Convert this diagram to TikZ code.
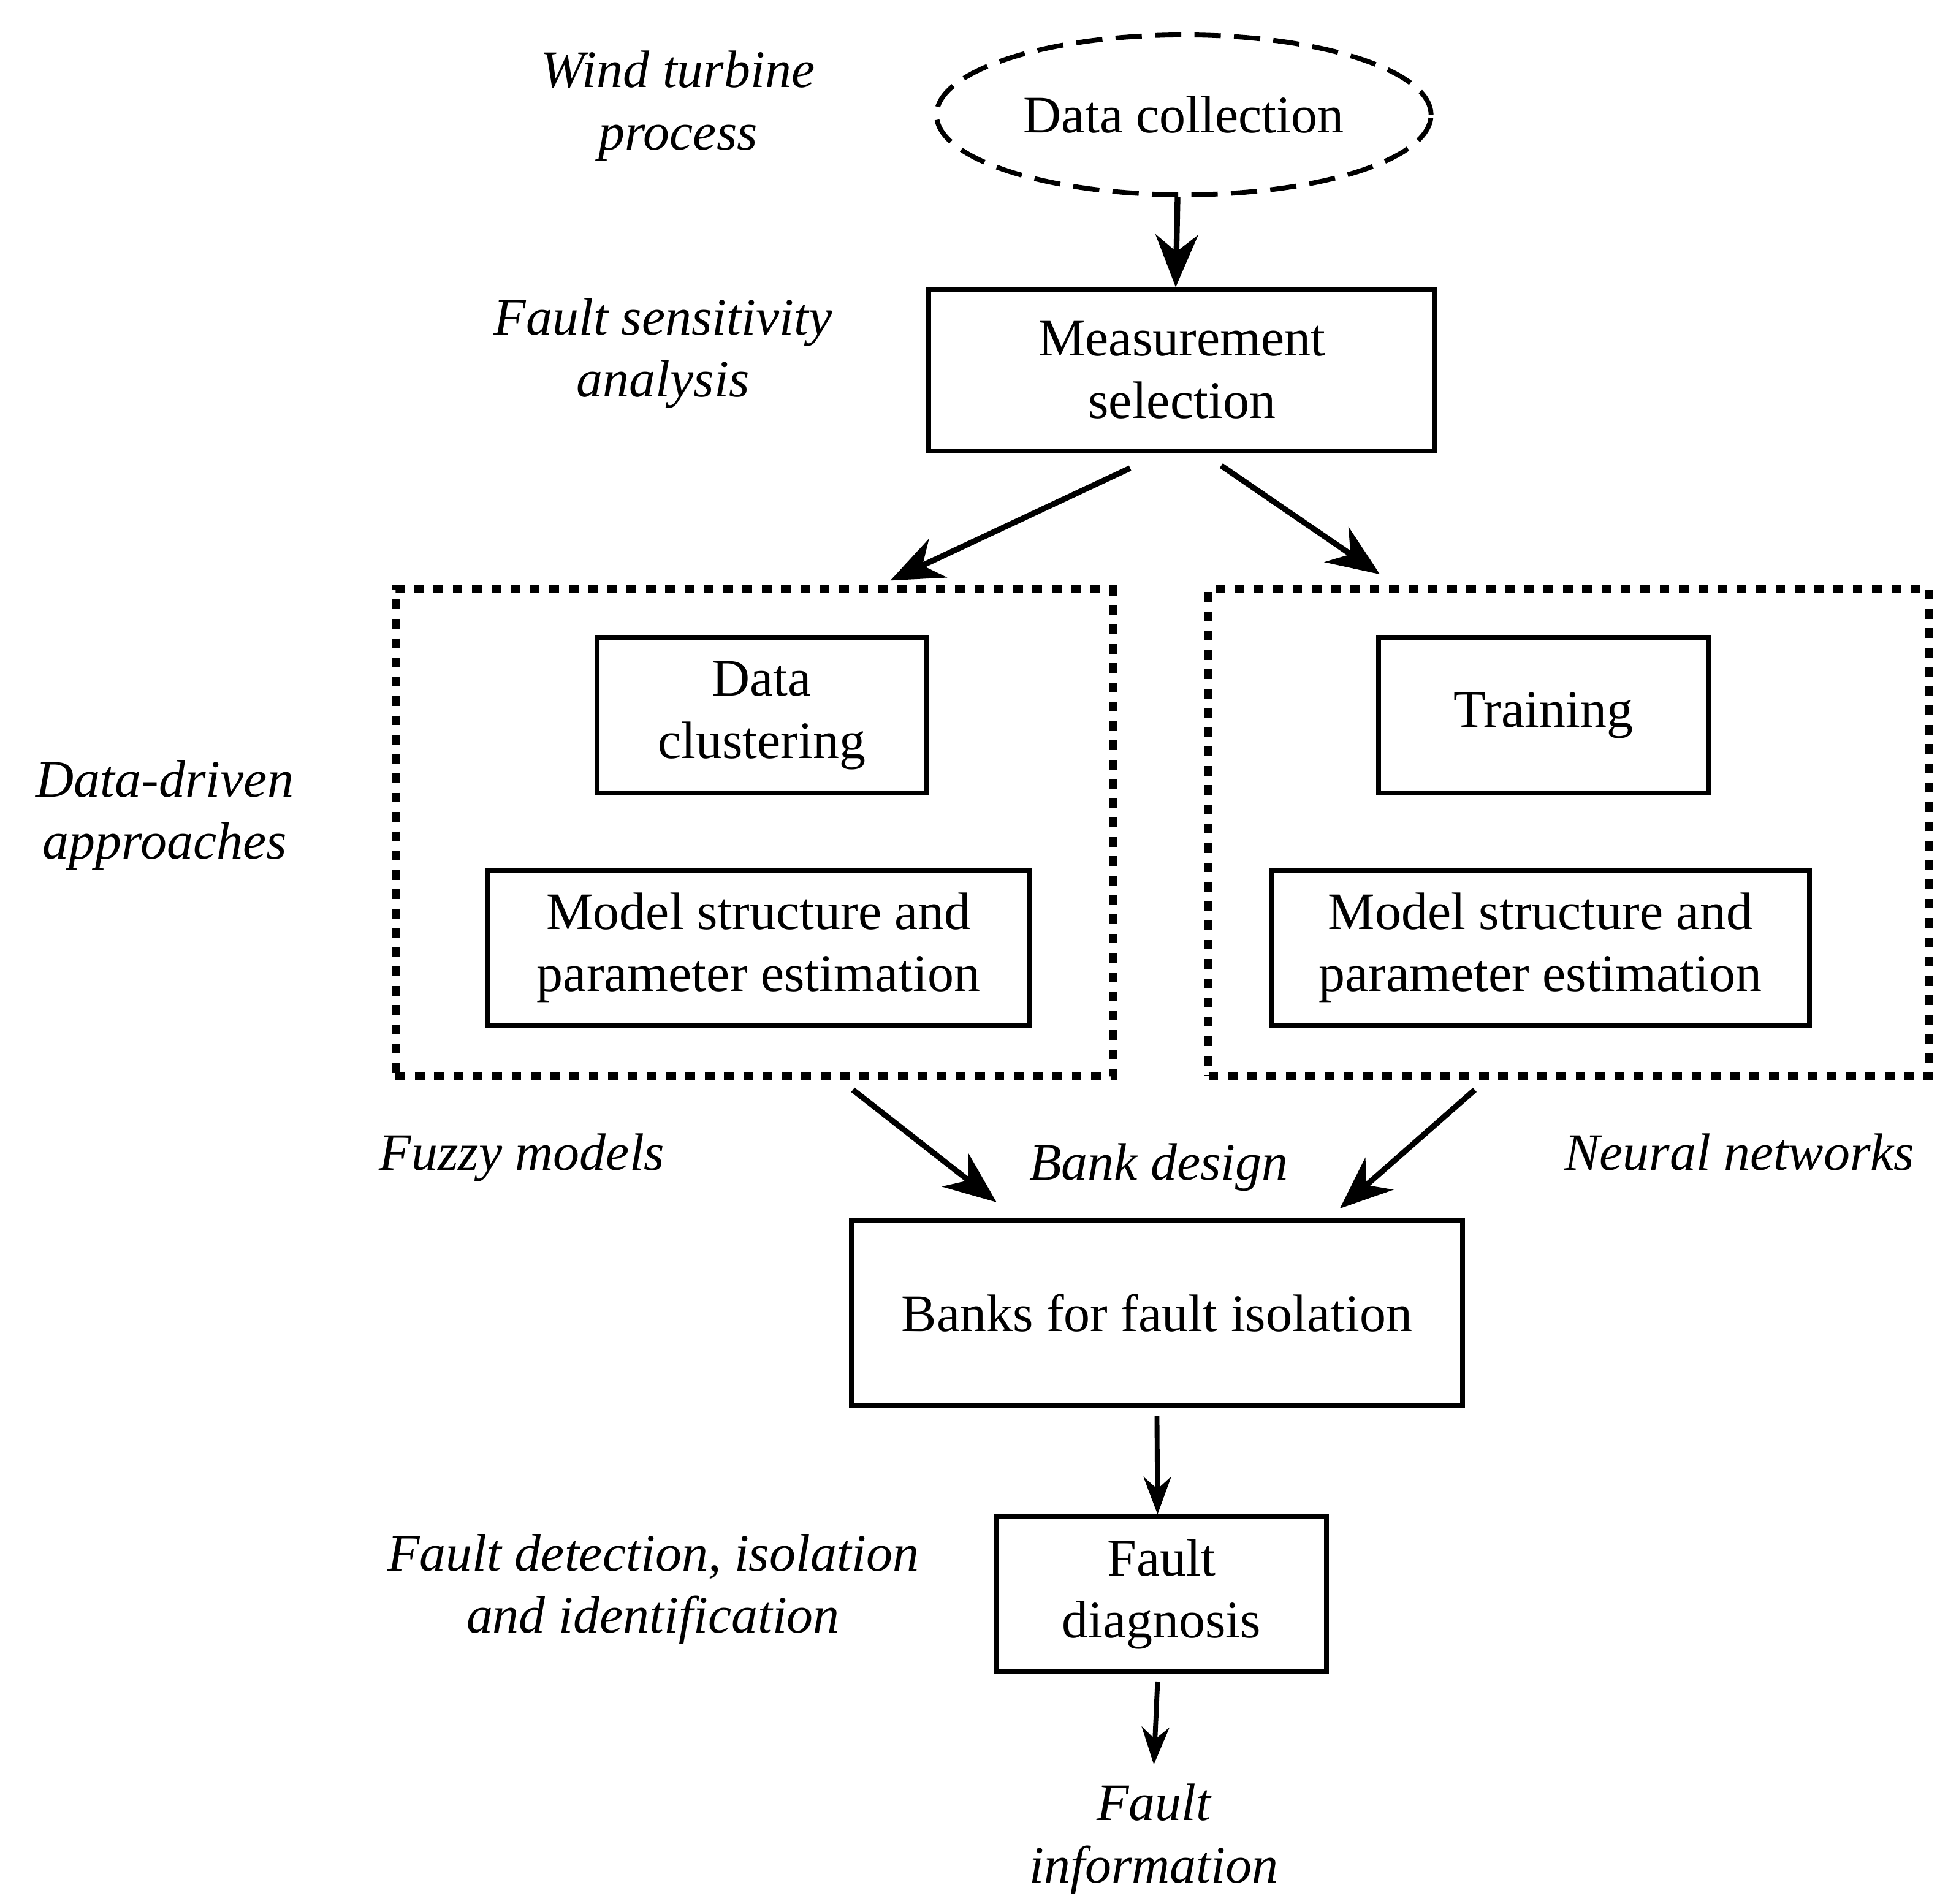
\documentclass[tikz,border=0pt]{standalone}
\usepackage{fontspec}
\setmainfont{Liberation Serif}
\usetikzlibrary{shapes.geometric,arrows.meta}
\begin{document}
\begin{tikzpicture}[x=0.01cm,y=-0.01cm,
  every node/.style={font=\fontsize{12}{14.2}\selectfont,align=center},
  box/.style={draw,line width=1.1pt,inner sep=0pt},
  dot/.style={draw,line width=1.8pt,dash pattern=on 2.2pt off 2.2pt,inner sep=0pt},
  lbl/.style={font=\fontsize{12}{14.2}\selectfont\itshape},
  arr/.style={line width=1.3pt,-{Stealth[length=0.42cm,width=0.34cm]}},
  arrs/.style={line width=1.1pt,-{Stealth[length=0.3cm,width=0.22cm]}}]
\useasboundingbox (0,0) rectangle (1560,1525);
\node[ellipse,draw,line width=1.1pt,dash pattern=on 6pt off 3pt,minimum width=3.9cm,minimum height=1.28cm] (dc) at (948,92) {Data collection};
\node[box,minimum width=4.05cm,minimum height=1.29cm] (ms) at (946.5,296.5) {Measurement\\selection};
\node[dot,minimum width=5.74cm,minimum height=3.9cm] (lb) at (604,667) {};
\node[dot,minimum width=5.77cm,minimum height=3.9cm] (rb) at (1256.5,667) {};
\node[box,minimum width=2.64cm,minimum height=1.24cm] (cl) at (610,573) {Data\\clustering};
\node[box,minimum width=4.33cm,minimum height=1.24cm] (ml) at (607.5,759) {Model structure and\\parameter estimation};
\node[box,minimum width=2.64cm,minimum height=1.24cm] (tr) at (1236,573) {Training};
\node[box,minimum width=4.31cm,minimum height=1.24cm] (mr) at (1233.5,759) {Model structure and\\parameter estimation};
\node[box,minimum width=4.89cm,minimum height=1.48cm] (bk) at (926.5,1052) {Banks for fault isolation};
\node[box,minimum width=2.64cm,minimum height=1.24cm] (fd) at (930,1277) {Fault\\diagnosis};
\node[lbl] (l1) at (543,85) {Wind turbine\\process};
\node[lbl] (l2) at (531,283) {Fault sensitivity\\analysis};
\node[lbl] (l3) at (132,653) {Data-driven\\approaches};
\node[lbl] (l4) at (418,927) {Fuzzy models};
\node[lbl] (l5) at (928,935) {Bank design};
\node[lbl] (l6) at (1393,923) {Neural networks};
\node[lbl] (l7) at (523,1273) {Fault detection, isolation\\and identification};
\node[lbl] (fi) at (924,1473) {Fault\\information};
\coordinate (a1) at (905,375); \coordinate (a2) at (713,465);
\coordinate (b1) at (978,373); \coordinate (b2) at (1105,460);
\coordinate (c1) at (683,873); \coordinate (c2) at (798,963);
\coordinate (d1) at (1181,873); \coordinate (d2) at (1073,968);
\draw[arr] (dc.south) ++(-5,0) -- ([xshift=-0.05cm]ms.north);
\draw[arr] (a1) -- (a2);
\draw[arr] (b1) -- (b2);
\draw[arr] (c1) -- (c2);
\draw[arr] (d1) -- (d2);
\draw[arrs] ([yshift=-0.06cm]bk.south) -- ([xshift=-0.03cm]fd.north);
\draw[arrs] ([xshift=-0.03cm,yshift=-0.06cm]fd.south) -- ([yshift=0.03cm]fi.north);
\end{tikzpicture}
\end{document}
